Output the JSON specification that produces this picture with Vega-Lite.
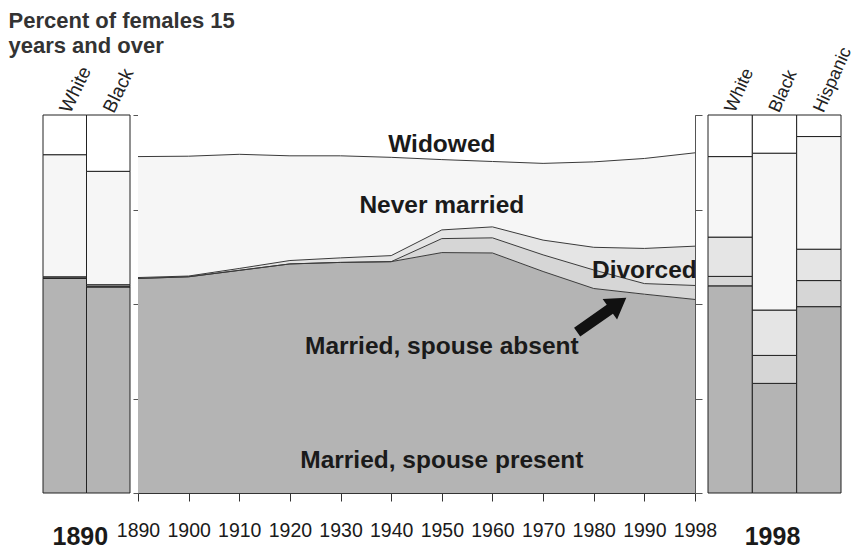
{
  "$schema": "https://vega.github.io/schema/vega-lite/v6.json",
  "padding": {"left": 8, "top": 10, "right": 0, "bottom": 0},
  "background": "white",
  "bounds": "flush",
  "spacing": 8,
  "datasets": {
    "mid": [
      {"year": 1890, "cat": "Married, spouse present", "ord": 1, "value": 56.75},
      {"year": 1890, "cat": "Married, spouse absent", "ord": 2, "value": 0},
      {"year": 1890, "cat": "Divorced", "ord": 3, "value": 0.25},
      {"year": 1890, "cat": "Never married", "ord": 4, "value": 32.0},
      {"year": 1890, "cat": "Widowed", "ord": 5, "value": 11.0},
      {"year": 1900, "cat": "Married, spouse present", "ord": 1, "value": 57.2},
      {"year": 1900, "cat": "Married, spouse absent", "ord": 2, "value": 0},
      {"year": 1900, "cat": "Divorced", "ord": 3, "value": 0.2},
      {"year": 1900, "cat": "Never married", "ord": 4, "value": 31.7},
      {"year": 1900, "cat": "Widowed", "ord": 5, "value": 10.9},
      {"year": 1910, "cat": "Married, spouse present", "ord": 1, "value": 58.9},
      {"year": 1910, "cat": "Married, spouse absent", "ord": 2, "value": 0},
      {"year": 1910, "cat": "Divorced", "ord": 3, "value": 0.5},
      {"year": 1910, "cat": "Never married", "ord": 4, "value": 30.2},
      {"year": 1910, "cat": "Widowed", "ord": 5, "value": 10.4},
      {"year": 1920, "cat": "Married, spouse present", "ord": 1, "value": 60.6},
      {"year": 1920, "cat": "Married, spouse absent", "ord": 2, "value": 0},
      {"year": 1920, "cat": "Divorced", "ord": 3, "value": 0.9},
      {"year": 1920, "cat": "Never married", "ord": 4, "value": 27.7},
      {"year": 1920, "cat": "Widowed", "ord": 5, "value": 10.8},
      {"year": 1930, "cat": "Married, spouse present", "ord": 1, "value": 61.0},
      {"year": 1930, "cat": "Married, spouse absent", "ord": 2, "value": 0},
      {"year": 1930, "cat": "Divorced", "ord": 3, "value": 1.2},
      {"year": 1930, "cat": "Never married", "ord": 4, "value": 27.0},
      {"year": 1930, "cat": "Widowed", "ord": 5, "value": 10.8},
      {"year": 1940, "cat": "Married, spouse present", "ord": 1, "value": 61.2},
      {"year": 1940, "cat": "Married, spouse absent", "ord": 2, "value": 0},
      {"year": 1940, "cat": "Divorced", "ord": 3, "value": 1.6},
      {"year": 1940, "cat": "Never married", "ord": 4, "value": 26.0},
      {"year": 1940, "cat": "Widowed", "ord": 5, "value": 11.2},
      {"year": 1950, "cat": "Married, spouse present", "ord": 1, "value": 63.6},
      {"year": 1950, "cat": "Married, spouse absent", "ord": 2, "value": 3.7},
      {"year": 1950, "cat": "Divorced", "ord": 3, "value": 2.3},
      {"year": 1950, "cat": "Never married", "ord": 4, "value": 18.6},
      {"year": 1950, "cat": "Widowed", "ord": 5, "value": 11.8},
      {"year": 1960, "cat": "Married, spouse present", "ord": 1, "value": 63.5},
      {"year": 1960, "cat": "Married, spouse absent", "ord": 2, "value": 4.0},
      {"year": 1960, "cat": "Divorced", "ord": 3, "value": 2.9},
      {"year": 1960, "cat": "Never married", "ord": 4, "value": 17.3},
      {"year": 1960, "cat": "Widowed", "ord": 5, "value": 12.3},
      {"year": 1970, "cat": "Married, spouse present", "ord": 1, "value": 58.6},
      {"year": 1970, "cat": "Married, spouse absent", "ord": 2, "value": 4.4},
      {"year": 1970, "cat": "Divorced", "ord": 3, "value": 3.9},
      {"year": 1970, "cat": "Never married", "ord": 4, "value": 20.3},
      {"year": 1970, "cat": "Widowed", "ord": 5, "value": 12.8},
      {"year": 1980, "cat": "Married, spouse present", "ord": 1, "value": 54.1},
      {"year": 1980, "cat": "Married, spouse absent", "ord": 2, "value": 4.9},
      {"year": 1980, "cat": "Divorced", "ord": 3, "value": 6.0},
      {"year": 1980, "cat": "Never married", "ord": 4, "value": 22.6},
      {"year": 1980, "cat": "Widowed", "ord": 5, "value": 12.4},
      {"year": 1990, "cat": "Married, spouse present", "ord": 1, "value": 52.6},
      {"year": 1990, "cat": "Married, spouse absent", "ord": 2, "value": 2.8},
      {"year": 1990, "cat": "Divorced", "ord": 3, "value": 9.3},
      {"year": 1990, "cat": "Never married", "ord": 4, "value": 23.8},
      {"year": 1990, "cat": "Widowed", "ord": 5, "value": 11.5},
      {"year": 1998, "cat": "Married, spouse present", "ord": 1, "value": 51.2},
      {"year": 1998, "cat": "Married, spouse absent", "ord": 2, "value": 3.7},
      {"year": 1998, "cat": "Divorced", "ord": 3, "value": 10.4},
      {"year": 1998, "cat": "Never married", "ord": 4, "value": 24.7},
      {"year": 1998, "cat": "Widowed", "ord": 5, "value": 10.0}
    ],
    "b1890": [
      {"race": "White", "cat": "Married, spouse present", "ord": 1, "value": 56.8},
      {"race": "White", "cat": "Married, spouse absent", "ord": 2, "value": 0.1},
      {"race": "White", "cat": "Divorced", "ord": 3, "value": 0.3},
      {"race": "White", "cat": "Never married", "ord": 4, "value": 32.3},
      {"race": "White", "cat": "Widowed", "ord": 5, "value": 10.5},
      {"race": "Black", "cat": "Married, spouse present", "ord": 1, "value": 54.5},
      {"race": "Black", "cat": "Married, spouse absent", "ord": 2, "value": 0.2},
      {"race": "Black", "cat": "Divorced", "ord": 3, "value": 0.4},
      {"race": "Black", "cat": "Never married", "ord": 4, "value": 30.0},
      {"race": "Black", "cat": "Widowed", "ord": 5, "value": 14.9}
    ],
    "b1998": [
      {"race": "White", "cat": "Married, spouse present", "ord": 1, "value": 54.8},
      {"race": "White", "cat": "Married, spouse absent", "ord": 2, "value": 2.5},
      {"race": "White", "cat": "Divorced", "ord": 3, "value": 10.4},
      {"race": "White", "cat": "Never married", "ord": 4, "value": 21.3},
      {"race": "White", "cat": "Widowed", "ord": 5, "value": 11.0},
      {"race": "Black", "cat": "Married, spouse present", "ord": 1, "value": 29.0},
      {"race": "Black", "cat": "Married, spouse absent", "ord": 2, "value": 7.4},
      {"race": "Black", "cat": "Divorced", "ord": 3, "value": 12.0},
      {"race": "Black", "cat": "Never married", "ord": 4, "value": 41.5},
      {"race": "Black", "cat": "Widowed", "ord": 5, "value": 10.1},
      {"race": "Hispanic", "cat": "Married, spouse present", "ord": 1, "value": 49.3},
      {"race": "Hispanic", "cat": "Married, spouse absent", "ord": 2, "value": 6.9},
      {"race": "Hispanic", "cat": "Divorced", "ord": 3, "value": 8.3},
      {"race": "Hispanic", "cat": "Never married", "ord": 4, "value": 29.8},
      {"race": "Hispanic", "cat": "Widowed", "ord": 5, "value": 5.7}
    ],
    "labels": [
      {"label": "Widowed", "year": 1950, "pct": 92.1},
      {"label": "Never married", "year": 1950, "pct": 76.0},
      {"label": "Divorced", "year": 1990, "pct": 58.7},
      {"label": "Married, spouse absent", "year": 1950, "pct": 38.6},
      {"label": "Married, spouse present", "year": 1950, "pct": 8.5}
    ],
    "arrow": [
      {"year": 1980, "pct": 47.1}
    ]
  },
  "hconcat": [
    {
      "width": 87,
      "height": 378,
      "data": {"name": "b1890"},
      "title": {
        "text": ["Percent of females 15", "years and over"],
        "anchor": "start",
        "frame": "bounds",
        "dx": -34,
        "fontSize": 22,
        "fontWeight": "bold",
        "color": "#333333",
        "lineHeight": 25,
        "offset": 5
      },
      "layer": [
        {
          "mark": {"type": "bar", "stroke": "#222222", "strokeWidth": 1},
          "encoding": {
            "x": {
              "field": "race", "type": "nominal", "sort": ["White", "Black"],
              "scale": {"paddingInner": 0, "paddingOuter": 0},
              "axis": {"orient": "top", "title": null, "ticks": false, "domain": false,
                       "labelAngle": -64, "labelAlign": "left", "labelBaseline": "middle",
                       "labelFontSize": 19, "labelPadding": 4, "labelColor": "#222222"}
            },
            "y": {"field": "value", "type": "quantitative", "stack": "zero",
                  "scale": {"domain": [0, 100], "nice": false}, "axis": null},
            "color": {
              "field": "cat", "type": "nominal",
              "scale": {
                "domain": ["Married, spouse present", "Married, spouse absent", "Divorced", "Never married", "Widowed"],
                "range": ["#b4b4b4", "#d6d6d6", "#e5e5e5", "#f6f6f6", "#ffffff"]
              },
              "legend": null
            },
            "order": {"field": "ord", "type": "quantitative"}
          }
        },
        {
          "mark": {"type": "bar", "opacity": 0},
          "encoding": {
            "x": {
              "field": "race", "type": "nominal", "sort": ["White", "Black"],
              "axis": {"orient": "bottom", "title": "1890", "titleX": 9, "titleAlign": "left", "labels": false, "ticks": false, "domain": false,
                       "titleFontSize": 25, "titleFontWeight": "bold", "titlePadding": 31, "titleColor": "#1a1a1a"}
            },
            "y": {"field": "value", "type": "quantitative", "stack": "zero", "axis": null}
          }
        }
      ],
      "resolve": {"axis": {"x": "independent"}}
    },
    {
      "width": 557,
      "height": 378,
      "view": {"stroke": "#888888", "strokeWidth": 1},
      "layer": [
        {
          "data": {"name": "mid"},
          "transform": [
            {"stack": "value", "groupby": ["year"], "sort": [{"field": "ord", "order": "ascending"}], "as": ["v0", "v1"]}
          ],
          "mark": {"type": "area"},
          "encoding": {
            "x": {
              "field": "year", "type": "ordinal",
              "scale": {"type": "point", "padding": 0,
                        "domain": [1890, 1900, 1910, 1920, 1930, 1940, 1950, 1960, 1970, 1980, 1990, 1998]},
              "axis": {"orient": "bottom", "title": null, "labelAngle": 0, "tickSize": 8,
                       "labelFont": "Liberation Sans",
                       "labelFontSize": 19.5, "labelPadding": 20, "labelOverlap": false, "labelFlush": false,
                       "labelColor": "#1a1a1a", "tickColor": "#333333", "domainColor": "#333333"}
            },
            "y": {"field": "v1", "type": "quantitative", "scale": {"domain": [0, 100], "nice": false},
                  "axis": {"orient": "left", "title": null, "labels": false, "tickSize": 5,
                           "values": [0, 25, 50, 75, 100], "tickColor": "#555555", "domainColor": "#555555", "grid": false}},
            "y2": {"field": "v0"},
            "color": {
              "field": "cat", "type": "nominal",
              "scale": {
                "domain": ["Married, spouse present", "Married, spouse absent", "Divorced", "Never married", "Widowed"],
                "range": ["#b4b4b4", "#d6d6d6", "#e5e5e5", "#f6f6f6", "#ffffff"]
              },
              "legend": null
            }
          }
        },
        {
          "data": {"name": "mid"},
          "transform": [
            {"stack": "value", "groupby": ["year"], "sort": [{"field": "ord", "order": "ascending"}], "as": ["v0", "v1"]},
            {"filter": {"not": {"field": "cat", "equal": "Widowed"}}}
          ],
          "mark": {"type": "line", "color": "#3a3a3a", "strokeWidth": 1},
          "encoding": {
            "x": {"field": "year", "type": "ordinal"},
            "y": {"field": "v1", "type": "quantitative",
                  "axis": {"orient": "right", "title": null, "labels": false, "tickSize": 7,
                           "values": [0, 25, 50, 75, 100], "tickColor": "#555555", "domainColor": "#555555", "grid": false}},
            "detail": {"field": "cat"}
          }
        },
        {
          "data": {"name": "labels"},
          "mark": {"type": "text", "fontSize": 24.5, "fontWeight": "bold", "color": "#1a1a1a",
                   "align": "center", "baseline": "middle"},
          "encoding": {
            "x": {"field": "year", "type": "ordinal"},
            "y": {"field": "pct", "type": "quantitative", "axis": null},
            "text": {"field": "label"}
          }
        },
        {
          "data": {"name": "arrow"},
          "mark": {"type": "point", "shape": "M-1,-0.18L0.33,-0.18L0.33,-0.42L1,0L0.33,0.42L0.33,0.18L-1,0.18Z",
                   "size": 3600, "angle": 325, "filled": true, "color": "#111111", "opacity": 1, "xOffset": 8},
          "encoding": {
            "x": {"field": "year", "type": "ordinal"},
            "y": {"field": "pct", "type": "quantitative", "axis": null}
          }
        }
      ],
      "resolve": {"axis": {"y": "independent"}}
    },
    {
      "width": 138,
      "height": 378,
      "data": {"name": "b1998"},
      "layer": [
        {
          "mark": {"type": "bar", "stroke": "#222222", "strokeWidth": 1},
          "encoding": {
            "x": {
              "field": "race", "type": "nominal", "sort": ["White", "Black", "Hispanic"],
              "scale": {"paddingInner": 0, "paddingOuter": 0.0564, "align": 1},
              "axis": {"orient": "top", "title": null, "ticks": false, "domain": false,
                       "labelAngle": -66, "labelAlign": "left", "labelBaseline": "middle",
                       "labelFontSize": 18, "labelPadding": 4, "labelColor": "#222222"}
            },
            "y": {"field": "value", "type": "quantitative", "stack": "zero",
                  "scale": {"domain": [0, 100], "nice": false}, "axis": null},
            "color": {
              "field": "cat", "type": "nominal",
              "scale": {
                "domain": ["Married, spouse present", "Married, spouse absent", "Divorced", "Never married", "Widowed"],
                "range": ["#b4b4b4", "#d6d6d6", "#e5e5e5", "#f6f6f6", "#ffffff"]
              },
              "legend": null
            },
            "order": {"field": "ord", "type": "quantitative"}
          }
        },
        {
          "mark": {"type": "bar", "opacity": 0},
          "encoding": {
            "x": {
              "field": "race", "type": "nominal", "sort": ["White", "Black", "Hispanic"],
              "axis": {"orient": "bottom", "title": "1998", "labels": false, "ticks": false, "domain": false,
                       "titleFontSize": 25, "titleFontWeight": "bold", "titlePadding": 31, "titleColor": "#1a1a1a"}
            },
            "y": {"field": "value", "type": "quantitative", "stack": "zero", "axis": null}
          }
        }
      ],
      "resolve": {"axis": {"x": "independent"}}
    }
  ],
  "config": {
    "view": {"stroke": null},
    "font": "Liberation Sans",
    "axis": {"grid": false, "labelFont": "Liberation Sans", "titleFont": "Liberation Sans"},
    "title": {"font": "Liberation Sans"},
    "text": {"font": "Liberation Sans"}
  }
}
